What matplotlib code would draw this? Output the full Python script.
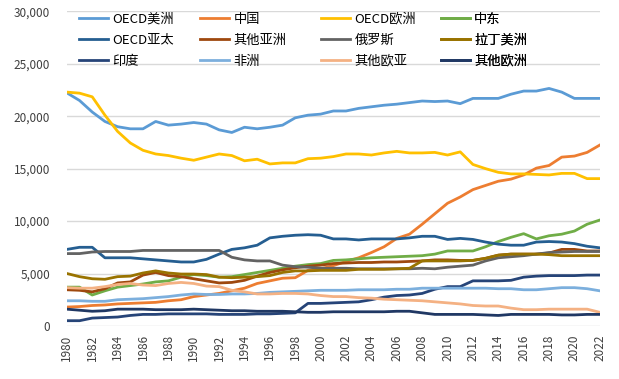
import matplotlib
matplotlib.use("Agg")
import matplotlib.pyplot as plt
from matplotlib.ticker import FuncFormatter, MultipleLocator

plt.rcParams['font.family'] = ['Noto Sans CJK SC', 'DejaVu Sans']

years = list(range(1980, 2023))

oecd_america = [22230, 21500, 20400, 19500, 19000, 18800, 18800, 19500, 19150, 19250,
                19400, 19250, 18700, 18450, 18950, 18800, 18950, 19150, 19850, 20100,
                20200, 20500, 20500, 20750, 20900, 21050, 21150, 21300, 21450, 21400,
                21450, 21200, 21700, 21700, 21700, 22100, 22400, 22400, 22650, 22300,
                21700, 21700, 21700]
china = [1800, 1850, 1950, 2000, 2100, 2150, 2200, 2250, 2400, 2500,
         2800, 2950, 3100, 3350, 3600, 4050, 4300, 4550, 4600, 5300,
         5450, 5750, 6150, 6500, 7000, 7550, 8350, 8750, 9700, 10700,
         11700, 12300, 13000, 13400, 13800, 14000, 14400, 15050, 15300, 16100,
         16200, 16550, 17250]
oecd_europe = [22300, 22200, 21850, 20100, 18550, 17450, 16750, 16400, 16250, 16000,
               15800, 16100, 16400, 16250, 15750, 15900, 15450, 15550, 15550, 15950,
               16000, 16150, 16400, 16400, 16300, 16500, 16650, 16500, 16500, 16550,
               16300, 16600, 15400, 15000, 14650, 14500, 14500, 14450, 14400, 14550,
               14550, 14050, 14050]
middle_east = [3700, 3700, 2950, 3350, 3700, 3850, 4000, 4200, 4300, 4650,
               4900, 4800, 4650, 4700, 4900, 5100, 5300, 5500, 5700, 5850,
               5950, 6250, 6300, 6400, 6500, 6550, 6600, 6650, 6700, 6850,
               7150, 7150, 7150, 7550, 8050, 8450, 8800, 8300, 8600, 8750,
               9050, 9700, 10100]
oecd_asia = [7300, 7500, 7500, 6500, 6500, 6500, 6400, 6300, 6200, 6100,
             6100, 6350, 6850, 7300, 7450, 7700, 8400, 8550, 8650, 8700,
             8650, 8300, 8300, 8200, 8300, 8300, 8300, 8400, 8550, 8550,
             8250, 8350, 8250, 8000, 7800, 7700, 7700, 8000, 8050, 8000,
             7850, 7600, 7450]
other_asia = [3450, 3400, 3250, 3550, 4100, 4200, 4850, 5100, 4800, 4700,
              4500, 4300, 4100, 4150, 4350, 4750, 5100, 5350, 5550, 5700,
              5800, 5950, 6000, 6050, 6050, 6100, 6100, 6150, 6200, 6300,
              6300, 6250, 6250, 6450, 6750, 6850, 6850, 6850, 6950, 7300,
              7300, 7150, 7150]
russia = [6900, 6900, 7050, 7100, 7100, 7100, 7200, 7200, 7200, 7200,
          7200, 7200, 7200, 6550, 6300, 6200, 6200, 5800, 5650, 5600,
          5500, 5500, 5500, 5450, 5450, 5450, 5450, 5450, 5500, 5450,
          5600, 5700, 5800, 6200, 6500, 6600, 6700, 6850, 7000, 7050,
          7100, 7100, 7100]
latin_america = [5000, 4700, 4500, 4450, 4700, 4750, 5050, 5250, 5050, 4950,
                 4950, 4900, 4650, 4600, 4650, 4700, 4800, 5100, 5250, 5250,
                 5300, 5300, 5300, 5400, 5400, 5400, 5450, 5500, 6200, 6200,
                 6200, 6200, 6250, 6450, 6750, 6850, 6850, 6850, 6800, 6700,
                 6700, 6700, 6700]
india = [500, 500, 750, 800, 850, 1000, 1100, 1100, 1150, 1150,
         1150, 1150, 1100, 1100, 1100, 1150, 1150, 1200, 1250, 2150,
         2150, 2200, 2250, 2300, 2500, 2750, 2900, 2950, 3100, 3500,
         3750, 3750, 4300, 4300, 4300, 4350, 4650, 4750, 4800, 4800,
         4800, 4850, 4850]
africa = [2400, 2400, 2350, 2350, 2500, 2550, 2600, 2700, 2800, 2950,
          3050, 3000, 3000, 3050, 3050, 3100, 3200, 3250, 3300, 3350,
          3400, 3400, 3400, 3450, 3450, 3450, 3500, 3500, 3600, 3600,
          3600, 3600, 3600, 3600, 3550, 3550, 3450, 3450, 3550, 3650,
          3650, 3550, 3350]
other_eurasia = [3650, 3600, 3600, 3750, 3950, 4050, 3900, 3850, 4050, 4150,
                 4050, 3800, 3750, 3400, 3250, 3050, 3050, 3100, 3100, 3050,
                 2900, 2800, 2800, 2700, 2650, 2550, 2500, 2450, 2400, 2300,
                 2200, 2100, 1950, 1900, 1900, 1700, 1550, 1550, 1600, 1600,
                 1600, 1600, 1300]
other_europe = [1600, 1500, 1400, 1450, 1600, 1600, 1600, 1550, 1550, 1550,
                1600, 1550, 1500, 1450, 1450, 1400, 1400, 1400, 1350, 1300,
                1300, 1350, 1350, 1350, 1350, 1350, 1400, 1400, 1250, 1100,
                1100, 1100, 1100, 1050, 1000, 1100, 1100, 1100, 1100, 1050,
                1050, 1100, 1100]

labels = ['OECD美洲', '中国', 'OECD欧洲', '中东',
          'OECD亚太', '其他亚洲', '俄罗斯', '拉丁美洲',
          '印度', '非洲', '其他欧亚', '其他欧洲']
series = [oecd_america, china, oecd_europe, middle_east,
          oecd_asia, other_asia, russia, latin_america,
          india, africa, other_eurasia, other_europe]
colors = ['#5B9BD5', '#ED7D31', '#FFC000', '#70AD47',
          '#255E91', '#9E480E', '#636363', '#997300',
          '#264478', '#7CAFDD', '#F4B183', '#203864']

fig = plt.figure(figsize=(6.19, 3.79), dpi=100)
ax = fig.add_axes([0.108, 0.140, 0.861, 0.830])

lines = []
for vals, lab, c in zip(series, labels, colors):
    ln, = ax.plot(years, vals, color=c, lw=2.0, label=lab, solid_joinstyle='round')
    lines.append(ln)

ax.set_xlim(1980, 2022)
ax.set_ylim(0, 30000)
ax.yaxis.set_major_locator(MultipleLocator(5000))
ax.yaxis.set_major_formatter(FuncFormatter(lambda v, p: f'{int(v):,}'))
ax.set_xticks(years[::2])
ax.set_xticklabels([str(y) for y in years[::2]], rotation=90)
ax.tick_params(axis='both', length=0, labelsize=8.5, colors='#404040')
ax.tick_params(axis='y', pad=12)
ax.tick_params(axis='x', pad=6)
ax.grid(axis='y', color='#D9D9D9', lw=1)
ax.set_axisbelow(True)
for s in ax.spines.values():
    s.set_visible(False)

# Excel-style legend: 4 equal-width columns, filled row by row
col_x = [0.02, 0.248, 0.475, 0.70]
for j in range(4):
    hs = [lines[j + 4 * r] for r in range(3)]
    leg = ax.legend(handles=hs, loc='upper left', bbox_to_anchor=(col_x[j], 1.0),
                    frameon=False, fontsize=9.5, borderpad=0.1, borderaxespad=0,
                    handlelength=2.2, handletextpad=0.3, labelspacing=0.6)
    ax.add_artist(leg)

fig.savefig('out.png', dpi=100)
